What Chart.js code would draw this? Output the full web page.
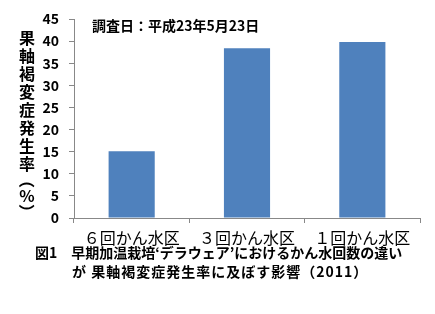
<!DOCTYPE html>
<html>
<head>
<meta charset="utf-8">
<script src="https://cdn.jsdelivr.net/npm/chart.js@4"></script>
<style>
  html, body { margin: 0; padding: 0; background: #fff; }
  #wrap { width: 435px; height: 314px; position: relative; }
</style>
</head>
<body>
<div id="wrap"><canvas id="chart" width="435" height="314"></canvas></div>
<script>
const categories = ['６回かん水区', '３回かん水区', '１回かん水区'];
const rates = [15.1, 38.4, 39.8];
const yTicks = [0, 5, 10, 15, 20, 25, 30, 35, 40, 45];

const yTitle = ['果', '軸', '褐', '変', '症', '発', '生', '率', '（', '%', '）'];
const dateNote = '調査日：平成23年5月23日';
const caption = [
  '図1　早期加温栽培‘デラウェア’におけるかん水回数の違い',
  'が 果軸褐変症発生率に及ぼす影響（2011）'
];

const jp = '"Noto Sans CJK JP", "Noto Sans", sans-serif';

const textPlugin = {
  id: 'texts',
  afterDraw(chart) {
    const ctx = chart.ctx;
    ctx.save();
    ctx.fillStyle = '#000';
    ctx.textBaseline = 'middle';

    // vertical axis title, brackets turned sideways
    ctx.font = 'bold 16px ' + jp;
    ctx.textAlign = 'center';
    let y = 38;
    yTitle.forEach(ch => {
      if (ch === '（' || ch === '）') {
        y -= 2;
        ctx.save();
        ctx.translate(27, y);
        ctx.rotate(Math.PI / 2);
        ctx.fillText(ch, 0, 0);
        ctx.restore();
        y += 16;
      } else {
        ctx.fillText(ch, 27, y);
        y += 18;
      }
    });

    // date note
    ctx.textAlign = 'left';
    ctx.font = 'bold 14px ' + jp;
    ctx.fillText(dateNote, 92, 26);

    // caption
    ctx.font = 'bold 14px ' + jp;
    ctx.fillText(caption[0], 35, 253);
    ctx.letterSpacing = '1px';
    ctx.fillText(caption[1], 72, 272);
    ctx.restore();
  }
};

new Chart(document.getElementById('chart'), {
  type: 'bar',
  data: {
    labels: categories,
    datasets: [{
      data: rates,
      backgroundColor: '#4F81BD',
      borderWidth: 0,
      categoryPercentage: 0.4,
      barPercentage: 1
    }]
  },
  options: {
    responsive: false,
    animation: false,
    layout: { padding: { top: 19, right: 15, left: 0, bottom: 0 } },
    plugins: {
      legend: { display: false },
      tooltip: { enabled: false }
    },
    scales: {
      x: {
        grid: {
          drawOnChartArea: false,
          tickLength: 5,
          color: '#888'
        },
        border: { color: '#888' },
        ticks: {
          color: '#000',
          padding: 5,
          font: { family: jp, size: 16 }
        },
        afterFit(scale) { scale.height = 96; }
      },
      y: {
        min: 0,
        max: 45,
        afterBuildTicks(scale) {
          scale.ticks = yTicks.map(v => ({ value: v }));
        },
        grid: {
          drawOnChartArea: false,
          tickLength: 5,
          color: '#888'
        },
        border: { color: '#888' },
        ticks: {
          color: '#000',
          padding: 10,
          font: { family: jp, size: 14, weight: 'bold' }
        },
        afterFit(scale) { scale.width = 74; }
      }
    }
  },
  plugins: [textPlugin]
});
</script>
</body>
</html>
